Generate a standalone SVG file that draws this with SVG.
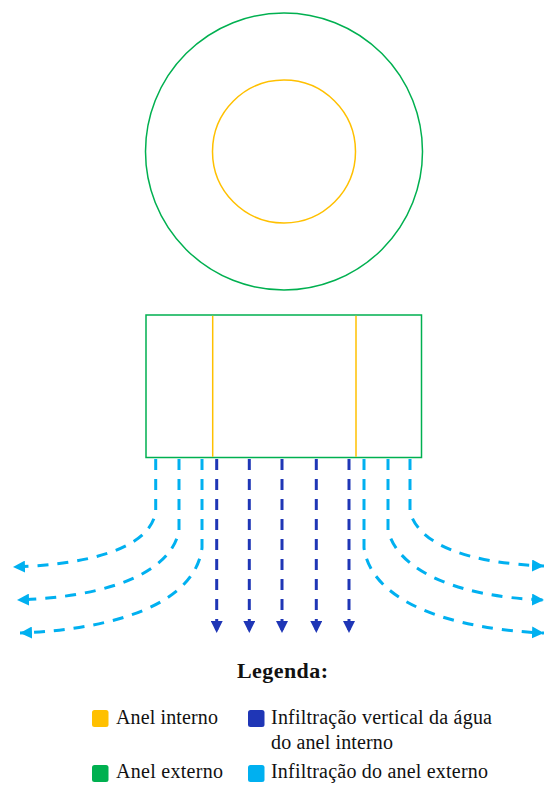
<svg xmlns="http://www.w3.org/2000/svg" width="544" height="785" viewBox="0 0 544 785">
<style>
.green{fill:none;stroke:#00B050;stroke-width:1.5}
.yellow{fill:none;stroke:#FFC000;stroke-width:1.5}
.dk{fill:none;stroke:#1F36B6;stroke-width:3;stroke-dasharray:11 9}
.lt{fill:none;stroke:#00B0F0;stroke-width:3;stroke-dasharray:11 9}
.lbl{font-family:"Liberation Serif","Times New Roman",serif;font-size:20px;fill:#111}
.ttl{font-family:"Liberation Serif","Times New Roman",serif;font-size:22px;font-weight:bold;fill:#111}
</style>
<defs>
<marker id="adk" markerUnits="userSpaceOnUse" markerWidth="12" markerHeight="12" viewBox="0 0 12 12" refX="12" refY="6" orient="auto"><path d="M0,0 L12,6 L0,12 Z" fill="#1F36B6"/></marker>
<marker id="alt" markerUnits="userSpaceOnUse" markerWidth="12" markerHeight="12" viewBox="0 0 12 12" refX="12" refY="6" orient="auto"><path d="M0,0 L12,6 L0,12 Z" fill="#00B0F0"/></marker>
</defs>
<rect width="544" height="785" fill="#fff"/>
<g id="top-view">
<circle class="green" cx="284" cy="151.5" r="138.5"/>
<circle class="yellow" cx="284" cy="151.5" r="71.5"/>
</g>
<g id="section">
<rect class="green" x="146" y="315" width="275.5" height="142.5"/>
<line class="yellow" x1="212.7" y1="315.8" x2="212.7" y2="456.8"/>
<line class="yellow" x1="356" y1="315.8" x2="356" y2="456.8"/>
</g>
<g id="connectors">
<path class="dk" d="M216.7,459 V633" marker-end="url(#adk)"/>
<path class="dk" d="M249.3,459 V633" marker-end="url(#adk)"/>
<path class="dk" d="M282,459 V633" marker-end="url(#adk)"/>
<path class="dk" d="M316.3,459 V633" marker-end="url(#adk)"/>
<path class="dk" d="M349,459 V633" marker-end="url(#adk)"/>
<path class="lt" d="M155.7,459 V512 C150,545 100,564 13,567" marker-end="url(#alt)"/>
<path class="lt" d="M179,459 V530 C172,572 110,597 17,600" marker-end="url(#alt)"/>
<path class="lt" d="M202,459 V548 C195,602 120,629 20,633" marker-end="url(#alt)"/>
<path class="lt" d="M410,459 V512 C420,546 470,563 544,566" marker-end="url(#alt)"/>
<path class="lt" d="M388,459 V530 C398,572 460,597 544,600" marker-end="url(#alt)"/>
<path class="lt" d="M364,459 V548 C372,602 450,629 544,633" marker-end="url(#alt)"/>
</g>
<g id="legend">
<text class="ttl" x="237" y="678" textLength="91" lengthAdjust="spacing">Legenda:</text>
<rect x="92" y="710" width="16.5" height="17" rx="2.5" fill="#FFC000"/>
<text class="lbl" x="116" y="724" textLength="102" lengthAdjust="spacing">Anel interno</text>
<rect x="248" y="710" width="16.5" height="17" rx="2.5" fill="#1F36B6"/>
<text class="lbl" x="271" y="724" textLength="221" lengthAdjust="spacing">Infiltração vertical da água</text>
<text class="lbl" x="271" y="748.5" textLength="122" lengthAdjust="spacing">do anel interno</text>
<rect x="92" y="765" width="16.5" height="17" rx="2.5" fill="#00B050"/>
<text class="lbl" x="116" y="778" textLength="107" lengthAdjust="spacing">Anel externo</text>
<rect x="248" y="765" width="16.5" height="17" rx="2.5" fill="#00B0F0"/>
<text class="lbl" x="271" y="778" textLength="217" lengthAdjust="spacing">Infiltração do anel externo</text>
</g>
</svg>
